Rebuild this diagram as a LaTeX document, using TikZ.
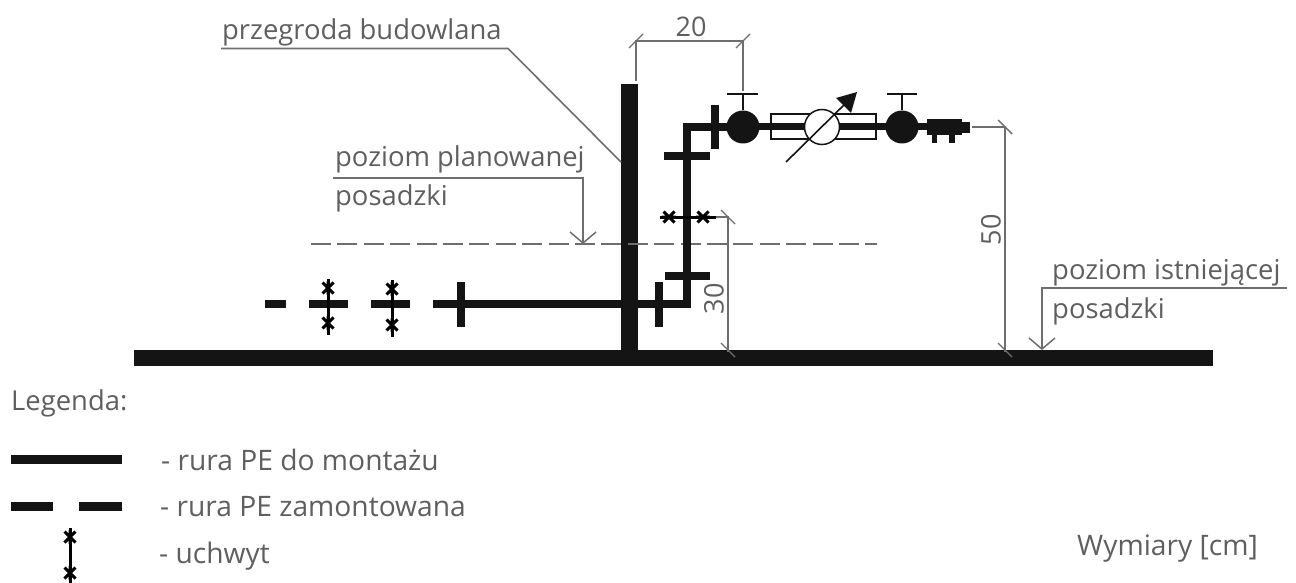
\documentclass[tikz,border=0pt]{standalone}
\usepackage{fontspec}
\setmainfont{Open Sans}
\usetikzlibrary{arrows.meta}
\definecolor{ink}{HTML}{141414}
\definecolor{dimc}{HTML}{6E6E6E}
\definecolor{txt}{HTML}{5F5F5F}
\tikzset{
  pipe/.style={draw=ink,line width=8.5pt},
  flange/.style={draw=ink,line width=7.5pt},
  thick wall/.style={draw=ink,line width=17pt},
  dimline/.style={draw=dimc,line width=1.4pt},
  leader/.style={draw=dimc,line width=1.6pt},
  vtip/.style={-{Straight Barb[length=11pt,width=26pt,line width=1.5pt]}},
  lbl/.style={text=txt,font=\fontsize{27.4pt}{30pt}\selectfont,anchor=base west,inner sep=0pt},
  lblb/.style={text=txt,font=\fontsize{28.2pt}{30pt}\selectfont,anchor=base west,inner sep=0pt},
  dimlbl/.style={text=txt,font=\fontsize{27pt}{30pt}\selectfont,inner sep=0pt},
  hook/.style={draw=black,line width=3pt},
  valve/.style={circle,fill=ink,draw=none,minimum size=33pt,inner sep=0pt},
  gauge/.style={circle,fill=white,draw=ink,line width=1.5pt,minimum size=35pt,inner sep=0pt},
}
\newcommand{\xmark}[2]{\draw[draw=black,line width=3pt] (#1-5.5,#2-5.5) -- (#1+5.5,#2+5.5) (#1-5.5,#2+5.5) -- (#1+5.5,#2-5.5) (#1-7,#2) -- (#1+7,#2);}
\newcommand{\ymark}[2]{\draw[draw=black,line width=3pt] (#1-5.5,#2-5.5) -- (#1+5.5,#2+5.5) (#1-5.5,#2+5.5) -- (#1+5.5,#2-5.5) (#1,#2-7) -- (#1,#2+7);}
\newcommand{\dtick}[2]{\draw[dimline] (#1-7,#2+7) -- (#1+7,#2-7);}
\newcommand{\dtickb}[2]{\draw[dimline] (#1-7,#2-7) -- (#1+7,#2+7);}
\begin{document}
\begin{tikzpicture}[x=1pt,y=-1pt]
\useasboundingbox (0,0) rectangle (1296,583);
\fill[white] (0,0) rectangle (1296,583);
% floor and wall
\draw[draw=ink,line width=16pt] (134,358) -- (1213,358);
\draw[thick wall] (629.5,84) -- (629.5,352);
% planned-floor dashed line
\draw[draw=dimc,line width=1.4pt,dash pattern=on 20pt off 6.4pt] (311,244) -- (877,244);
% pipe
\draw[pipe,miter limit=4] (433,304) -- (687,304) -- (687,127) -- (727,127);
\draw[pipe,line width=7pt] (727,127) -- (927,127);
\draw[pipe] (265,304) -- (286,304);
\draw[pipe] (309,304) -- (348,304);
\draw[pipe] (371,304) -- (410,304);
% flanges
\draw[flange] (461,282) -- (461,327);
\draw[flange] (659,282) -- (659,327);
\draw[flange] (665,276) -- (710,276);
\draw[flange] (664,156) -- (710,156);
\draw[flange] (715,105) -- (715,149);
% fasteners
\draw[hook] (328,279) -- (328,335);
\ymark{328}{288}\ymark{328}{323}
\draw[hook] (392,280) -- (392,337);
\ymark{392}{289}\ymark{392}{325}
\draw[hook] (660,217) -- (716,217);
\xmark{669}{217}\xmark{703}{217}
% meter body
\draw[draw=ink,line width=1.5pt] (771,114) rectangle (876,139);
\draw[pipe,line width=7pt] (771,127) -- (876,127);
% valves
\node[valve] (v1) at (743,127) {};
\node[valve] (v2) at (902,127) {};
\coordinate (h1) at (743,94);
\coordinate (h2) at (902,94);
\draw[draw=ink,line width=1.5pt] (v1) -- (h1) (727,94) -- (758,94);
\draw[draw=ink,line width=1.5pt] (v2) -- (h2) (887,94) -- (917,94);
% gauge
\node[gauge] (g) at (822,127) {};
\draw[draw=ink,line width=1.6pt] (786,162) -- (848,101);
\fill[ink] (857,92) -- (836,98) -- (851,113) -- cycle;
% end fitting
\fill[ink] (927,119) rectangle (962,135);
\fill[ink] (962,122) rectangle (970,133);
\fill[ink] (932,135) rectangle (937,143);
\fill[ink] (949,135) rectangle (955,143);
% dimensions
\draw[dimline] (636,81) -- (636,41) -- (743,41) -- (743,91);
\dtick{636}{41}\dtick{743}{41}
\draw[dimline] (972,127) -- (1005,127) -- (1005,352);
\dtickb{1005}{127}\dtickb{1005}{350}
\draw[dimline] (716,217) -- (728,217) -- (728,352);
\dtickb{728}{217}\dtickb{728}{350}
\node[dimlbl] (d20) at (691,26.5) {20};
\node[dimlbl,rotate=90] (d50) at (991,230) {50};
\node[dimlbl,rotate=90] (d30) at (714,299) {30};
% leaders
\coordinate (lw1) at (221,48.5);
\coordinate (lw2) at (508,48.5);
\coordinate (lw3) at (621,162);
\draw[leader] (lw1) -- (lw2) -- (lw3);
\coordinate (lp1) at (333,178);
\coordinate (lp2) at (583,178);
\coordinate (lp3) at (583,244);
\draw[leader,vtip] (lp1) -- (lp2) -- (lp3);
\coordinate (li1) at (1287,288);
\coordinate (li2) at (1042,288);
\coordinate (li3) at (1042,350);
\draw[leader,vtip] (li1) -- (li2) -- (li3);
% labels
\node[lbl] (t1) at (222,40) {przegroda budowlana};
\node[lbl] (t2) at (335,167) {poziom planowanej};
\node[lbl] (t3) at (335,205) {posadzki};
\node[lbl] (t4) at (1052,279) {poziom istniejącej};
\node[lbl] (t5) at (1052,318) {posadzki};
\node[lbl] (t6) at (11,410) {Legenda:};
\node[lblb] (t7) at (161,470) {- rura PE do montażu};
\node[lblb] (t8) at (160,516) {- rura PE zamontowana};
\node[lblb] (t9) at (159,563) {- uchwyt};
\node[lblb] (t10) at (1077,555) {Wymiary [cm]};
% legend symbols
\draw[draw=ink,line width=9pt] (11,459) -- (122,459);
\draw[draw=ink,line width=9pt] (11,506) -- (53,506);
\draw[draw=ink,line width=9pt] (79,506) -- (122,506);
\draw[hook] (70,528) -- (70,590);
\ymark{70}{537}\ymark{70}{573}
\end{tikzpicture}
\end{document}
